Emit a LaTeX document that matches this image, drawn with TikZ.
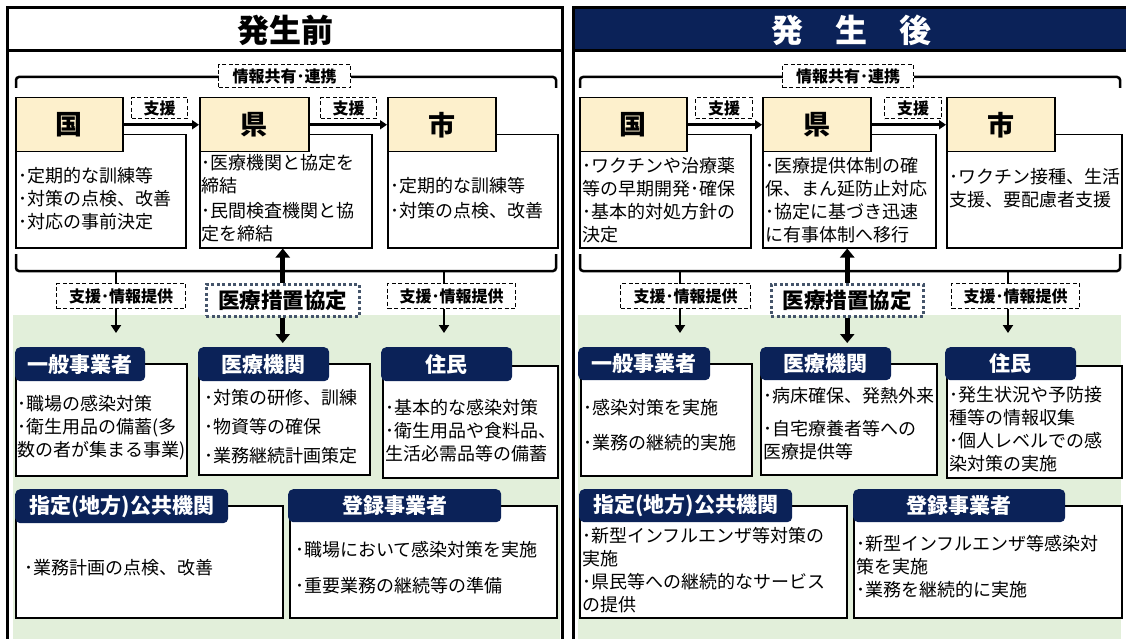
\documentclass[tikz,border=0pt]{standalone}
\usepackage{fontspec}
\setmainfont{Noto Sans CJK JP}
\usetikzlibrary{arrows.meta}
\definecolor{hdryellow}{HTML}{FDF0CC}
\definecolor{hdrnavy}{HTML}{0B2258}
\definecolor{bggreen}{HTML}{E2EFDA}
\definecolor{dotgray}{HTML}{44546A}
\tikzset{
  frameline/.style={line width=3pt},
  bracket/.style={line width=2.5pt, rounded corners=3pt},
  hdrbox/.style={draw, line width=1.5pt, fill=hdryellow, inner sep=0pt, anchor=north west, font=\bfseries\fontsize{27}{30}\selectfont},
  txtbox/.style={draw, line width=1.5pt, fill=white, inner sep=0pt, anchor=north west},
  navyhdr/.style={fill=hdrnavy, rounded corners=5pt, text=white, inner sep=0pt, anchor=north west, font=\bfseries\fontsize{21}{24}\selectfont},
  lbl/.style={draw, dash pattern=on 4pt off 2.5pt, line width=1.3pt, fill=white, inner sep=0pt, anchor=north west, font=\bfseries\fontsize{16}{18}\selectfont},
  kyotei/.style={draw=dotgray, dash pattern=on 3pt off 2.5pt, line width=2.5pt, fill=white, inner sep=0pt, anchor=north west, font=\bfseries\fontsize{21.5}{24}\selectfont},
  body/.style={anchor=west, align=left, inner sep=0pt, font=\fontsize{18}{23}\selectfont},
  flow/.style={line width=2.5pt, -{Triangle[width=9pt,length=7pt]}},
  bigflow/.style={line width=5pt, -{Triangle[width=14pt,length=9pt]}},
  down/.style={line width=2pt, -{Triangle[width=10pt,length=8pt]}}
}
\begin{document}
\begin{tikzpicture}
  \begin{scope}[x=1pt,y=-1pt]
    \useasboundingbox (0,0) rectangle (1126,639);
    \fill [bggreen] (13,315) rectangle (560,645);
    \fill [bggreen] (578,315) rectangle (1121,645);
    \fill [hdrnavy] (573,8) rectangle (1130,51);
    \draw [frameline] (7,650) -- (7,8) -- (562,8) -- (562,650);
    \draw [frameline] (7,51) -- (562,51);
    \draw [frameline] (573,650) -- (573,8) -- (1130,8);
    \draw [frameline] (573,51) -- (1130,51);
    \node [font=\bfseries\fontsize{32}{36}\selectfont] (titleA) at (285,30) {発生前};
    \node [font=\bfseries\fontsize{32}{36}\selectfont, text=white] (titleB) at (851,30) {発　生　後};

    % before
    \draw [bracket] (16,88) -- (16,77) -- (556,77) -- (556,88);
    \draw [bracket] (16,254) -- (16,271) -- (556,271) -- (556,254);
    \node [lbl, minimum width=132pt, minimum height=23pt] (infoA) at (218,64) {情報共有･連携};
    \node [txtbox, minimum width=170pt, minimum height=113pt] (kuniAt) at (15,134) {};
    \node [txtbox, minimum width=172pt, minimum height=113pt] (kenAt) at (199,134) {};
    \node [txtbox, minimum width=170pt, minimum height=113pt] (shiAt) at (387,134) {};
    \node [hdrbox, minimum width=107pt, minimum height=54pt] (kuniA) at (15,97) {国};
    \node [hdrbox, minimum width=109pt, minimum height=54pt] (kenA) at (199,97) {県};
    \node [hdrbox, minimum width=108pt, minimum height=54pt] (shiA) at (387,97) {市};
    \draw [flow] (kuniA) -- (kenA);
    \draw [flow] (kenA) -- (shiA);
    \node [lbl, minimum width=56pt, minimum height=21pt] (shienA1) at (131,97) {支援};
    \node [lbl, minimum width=56pt, minimum height=21pt] (shienA2) at (320,97) {支援};
    \node [body] (kuniAx) at (18,199) {･定期的な訓練等\\･対策の点検、改善\\･対応の事前決定};
    \node [body] (kenAx) at (201,198) {･医療機関と協定を\\締結\\[2pt]･民間検査機関と協\\定を締結};
    \node [body] (shiAx) at (390,198) {･定期的な訓練等\\[2pt]･対策の点検、改善};

    \node [txtbox, minimum width=171pt, minimum height=112pt] (ippanAt) at (15,363) {};
    \node [txtbox, minimum width=171pt, minimum height=111pt] (iryoAt) at (198,363) {};
    \node [txtbox, minimum width=175pt, minimum height=112pt] (juminAt) at (382,365) {};
    \node [txtbox, minimum width=267pt, minimum height=112pt] (shiteiAt) at (15,505) {};
    \node [txtbox, minimum width=267pt, minimum height=112pt] (tourokuAt) at (289,505) {};
    \node [navyhdr, minimum width=130pt, minimum height=34pt] (ippanA) at (15,347) {一般事業者};
    \node [navyhdr, minimum width=131pt, minimum height=34pt] (iryoA) at (198,347) {医療機関};
    \node [navyhdr, minimum width=131pt, minimum height=34pt] (juminA) at (381,347) {住民};
    \node [navyhdr, minimum width=213pt, minimum height=34pt] (shiteiA) at (15,489) {指定(地方)公共機関};
    \node [navyhdr, minimum width=213pt, minimum height=33pt] (tourokuA) at (288,489) {登録事業者};
    \node [body] (ippanAx) at (17,428) {･職場の感染対策\\･衛生用品の備蓄(多\\数の者が集まる事業)};
    \node [body] (iryoAx) at (204,427) {･対策の研修、訓練\\[6pt]･物資等の確保\\[6pt]･業務継続計画策定};
    \node [body] (juminAx) at (385,431) {･基本的な感染対策\\･衛生用品や食料品、\\生活必需品等の備蓄};
    \node [body] (shiteiAx) at (24,568) {･業務計画の点検、改善};
    \node [body] (tourokuAx) at (295,568) {･職場において感染対策を実施\\[13pt]･重要業務の継続等の準備};

    \coordinate (brA1) at (116,271);
    \coordinate (brA2) at (444,271);
    \draw [down, shorten >=14pt] (brA1) -- (brA1 |- ippanA.north);
    \draw [down, shorten >=14pt] (brA2) -- (brA2 |- juminA.north);
    \node [lbl, minimum width=129pt, minimum height=25pt] (teikyoA1) at (56,283) {支援･情報提供};
    \node [lbl, minimum width=128pt, minimum height=25pt] (teikyoA2) at (387,283) {支援･情報提供};
    \node [kyotei, minimum width=153pt, minimum height=32pt] (kyoteiA) at (205,283) {医療措置協定};
    \draw [bigflow] (kyoteiA.north) -- (kyoteiA.north |- kenAt.south);
    \draw [bigflow, shorten >=4pt] (kyoteiA.south) -- (kyoteiA.south |- iryoA.north);

    % after
    \draw [bracket] (580,88) -- (580,77) -- (1120,77) -- (1120,88);
    \draw [bracket] (580,254) -- (580,271) -- (1120,271) -- (1120,254);
    \node [lbl, minimum width=131pt, minimum height=23pt] (infoB) at (782,64) {情報共有･連携};
    \node [txtbox, minimum width=171pt, minimum height=113pt] (kuniBt) at (579,134) {};
    \node [txtbox, minimum width=173pt, minimum height=113pt] (kenBt) at (762,134) {};
    \node [txtbox, minimum width=175pt, minimum height=113pt] (shiBt) at (946,134) {};
    \node [hdrbox, minimum width=107pt, minimum height=54pt] (kuniB) at (579,97) {国};
    \node [hdrbox, minimum width=108pt, minimum height=54pt] (kenB) at (762,97) {県};
    \node [hdrbox, minimum width=108pt, minimum height=54pt] (shiB) at (946,97) {市};
    \draw [flow] (kuniB) -- (kenB);
    \draw [flow] (kenB) -- (shiB);
    \node [lbl, minimum width=57pt, minimum height=21pt] (shienB1) at (695,97) {支援};
    \node [lbl, minimum width=57pt, minimum height=21pt] (shienB2) at (884,97) {支援};
    \node [body] (kuniBx) at (582,200) {･ワクチンや治療薬\\等の早期開発･確保\\･基本的対処方針の\\決定};
    \node [body] (kenBx) at (765,200) {･医療提供体制の確\\保、まん延防止対応\\･協定に基づき迅速\\に有事体制へ移行};
    \node [body] (shiBx) at (949,188) {･ワクチン接種、生活\\支援、要配慮者支援};

    \node [txtbox, minimum width=171pt, minimum height=112pt] (ippanBt) at (580,363) {};
    \node [txtbox, minimum width=176pt, minimum height=111pt] (iryoBt) at (760,363) {};
    \node [txtbox, minimum width=175pt, minimum height=112pt] (juminBt) at (946,365) {};
    \node [txtbox, minimum width=267pt, minimum height=112pt] (shiteiBt) at (579,505) {};
    \node [txtbox, minimum width=268pt, minimum height=112pt] (tourokuBt) at (853,505) {};
    \node [navyhdr, minimum width=132pt, minimum height=33pt] (ippanB) at (578,347) {一般事業者};
    \node [navyhdr, minimum width=131pt, minimum height=33pt] (iryoB) at (760,347) {医療機関};
    \node [navyhdr, minimum width=131pt, minimum height=33pt] (juminB) at (945,347) {住民};
    \node [navyhdr, minimum width=213pt, minimum height=33pt] (shiteiB) at (579,489) {指定(地方)公共機関};
    \node [navyhdr, minimum width=212pt, minimum height=33pt] (tourokuB) at (853,489) {登録事業者};
    \node [body] (ippanBx) at (583,425) {･感染対策を実施\\[12pt]･業務の継続的実施};
    \node [body] (iryoBx) at (763,424) {･病床確保、発熱外来\\[10pt]･自宅療養者等への\\医療提供等};
    \node [body] (juminBx) at (949,429) {･発生状況や予防接\\種等の情報収集\\･個人レベルでの感\\染対策の実施};
    \node [body] (shiteiBx) at (582,570) {･新型インフルエンザ等対策の\\実施\\･県民等への継続的なサービス\\の提供};
    \node [body] (tourokuBx) at (856,567) {･新型インフルエンザ等感染対\\策を実施\\･業務を継続的に実施};

    \coordinate (brB1) at (680,271);
    \coordinate (brB2) at (1008,271);
    \draw [down, shorten >=14pt] (brB1) -- (brB1 |- ippanB.north);
    \draw [down, shorten >=14pt] (brB2) -- (brB2 |- juminB.north);
    \node [lbl, minimum width=130pt, minimum height=25pt] (teikyoB1) at (620,283) {支援･情報提供};
    \node [lbl, minimum width=128pt, minimum height=25pt] (teikyoB2) at (951,283) {支援･情報提供};
    \node [kyotei, minimum width=152pt, minimum height=32pt] (kyoteiB) at (770,283) {医療措置協定};
    \draw [bigflow] (kyoteiB.north) -- (kyoteiB.north |- kenBt.south);
    \draw [bigflow, shorten >=4pt] (kyoteiB.south) -- (kyoteiB.south |- iryoB.north);
  \end{scope}
\end{tikzpicture}
\end{document}
